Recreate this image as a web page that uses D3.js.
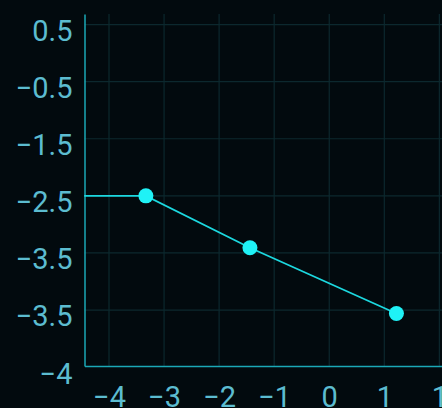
<!DOCTYPE html>
<html>
<head>
<meta charset="utf-8">
<script src="https://cdn.jsdelivr.net/npm/d3@7"></script>
<style>
  html, body { margin: 0; padding: 0; background: #020a0e; }
  svg { display: block; }
  .tick text { font-family: Roboto, "Noto Sans", sans-serif; fill: #5cbcd0; }
</style>
</head>
<body>
<div id="chart"></div>
<script>
const width = 442;
const height = 408;

// tick positions and the labels printed at them
const xTicks = [-4, -3, -2, -1, 0, 1, 2];
const xTickLabels = ["\u22124", "\u22123", "\u22122", "\u22121", "0", "1", "1"];
const yTicks = [0.5, -0.5, -1.5, -2.5, -3.5, -4.5, -5.5];
const yTickLabels = ["0.5", "\u22120.5", "\u22121.5", "\u22122.5", "\u22123.5", "\u22123.5", "\u22124"];

// series
const lineX = [-4.45, -3.33, -1.44, 1.22];
const lineY = [-2.5, -2.5, -3.41, -4.56];
const pointX = [-3.33, -1.44, 1.22];
const pointY = [-2.5, -3.41, -4.56];

const plotLeft = 84.5, plotTop = 14, plotBottom = 366;

let x = d3.scaleLinear().domain([-4.445, 2.3]).range([plotLeft, plotLeft + 55.06 * 6.745]);
let y = d3.scaleLinear().domain([-5.48, 0.685]).range([plotBottom, plotTop]);

let svg = d3.select("#chart").append("svg")
    .attr("width", width)
    .attr("height", height);

//Grid lines.
svg.append("g")
    .selectAll("line")
    .data(xTicks)
    .enter()
    .append("line")
    .attr("x1", d => x(d)).attr("x2", d => x(d))
    .attr("y1", plotTop).attr("y2", plotBottom)
    .attr("stroke", "#0c282e")
    .attr("stroke-width", 1.2);

svg.append("g")
    .selectAll("line")
    .data(yTicks.slice(0, -1))
    .enter()
    .append("line")
    .attr("x1", plotLeft).attr("x2", width)
    .attr("y1", d => y(d)).attr("y2", d => y(d))
    .attr("stroke", "#0c282e")
    .attr("stroke-width", 1.2);

//Axes.
let xAxis = svg.append("g")
    .attr("transform", "translate(0," + plotBottom + ")")
    .call(d3.axisBottom(x)
        .tickValues(xTicks)
        .tickFormat((d, i) => xTickLabels[i])
        .tickSize(0)
        .tickPadding(20));

let yAxis = svg.append("g")
    .attr("transform", "translate(" + plotLeft + ",0)")
    .call(d3.axisLeft(y)
        .tickValues(yTicks)
        .tickFormat((d, i) => yTickLabels[i])
        .tickSize(0)
        .tickPadding(12));

svg.selectAll(".domain")
    .attr("stroke", "#1ba8b6")
    .attr("stroke-width", 1.5);
svg.selectAll(".tick text")
    .style("font-size", "29px");
yAxis.selectAll(".tick text").attr("dy", "0.55em");

//Line and points.
svg.append("path")
    .datum(lineX.map((d, i) => [d, lineY[i]]))
    .attr("d", d3.line().x(d => x(d[0])).y(d => y(d[1])))
    .attr("fill", "none")
    .attr("stroke", "#1cd8df")
    .attr("stroke-width", 1.8);

svg.selectAll("circle")
    .data(pointX.map((d, i) => [d, pointY[i]]))
    .enter()
    .append("circle")
    .attr("cx", d => x(d[0]))
    .attr("cy", d => y(d[1]))
    .attr("r", 7.5)
    .attr("fill", "#1ff2f6");
</script>
</body>
</html>
